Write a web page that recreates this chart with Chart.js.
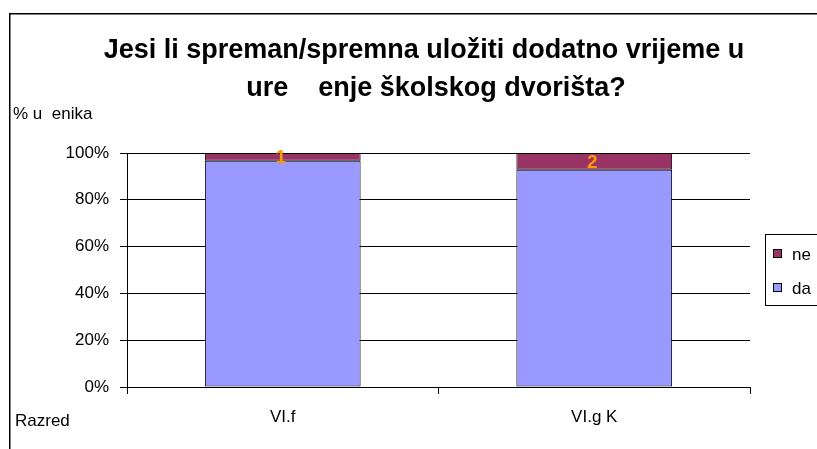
<!DOCTYPE html>
<html>
<head>
<meta charset="utf-8">
<script src="https://cdn.jsdelivr.net/npm/chart.js@4.4.0/dist/chart.umd.min.js"></script>
<style>
  html, body { margin: 0; padding: 0; background: #fff; }
</style>
</head>
<body>
<canvas id="grafikon" width="817" height="449"></canvas>
<script>
const razredi = ['VI.f', 'VI.g K'];
const odgovorDa = [29, 26];
const odgovorNe = [1, 2];
const yTicks = [0, 20, 40, 60, 80, 100];
const naslov = ['Jesi li spreman/spremna uložiti dodatno vrijeme u', 'ure    enje školskog dvorišta?'];

// postoci po razredu (100% stupci)
const ukupno = razredi.map((r, i) => odgovorDa[i] + odgovorNe[i]);
const postoDa = odgovorDa.map((v, i) => v / ukupno[i] * 100);
const postoNe = odgovorNe.map((v, i) => v / ukupno[i] * 100);

const FONT = "'Liberation Sans', Arial, sans-serif";

// okvir, naslov, oznake osi, legenda i brojke na stupcima
const crtanje = {
    id: 'crtanje',
    afterDraw(chart) {
        const c = chart.ctx;
        c.save();
        // okvir grafikona (lijevo i gore)
        c.strokeStyle = '#000';
        c.lineWidth = 1.5;
        c.beginPath();
        c.moveTo(9.75, 449);
        c.lineTo(9.75, 13.75);
        c.lineTo(817, 13.75);
        c.stroke();

        c.fillStyle = '#000';
        c.font = 'bold 27px ' + FONT;
        c.textAlign = 'center';
        c.textBaseline = 'alphabetic';
        c.fillText(naslov[0], 424, 58);
        c.fillText(naslov[1], 436, 96);

        c.font = '17px ' + FONT;
        c.textAlign = 'left';
        c.fillText('% u  enika', 13, 119);
        c.fillText('Razred', 15, 426);

        // legenda
        c.lineWidth = 1;
        c.strokeRect(765.5, 234.5, 60, 71);
        const stavke = [
            { tekst: 'ne', boja: '#993366', y: 249 },
            { tekst: 'da', boja: '#9999FF', y: 283 }
        ];
        stavke.forEach(s => {
            c.fillStyle = s.boja;
            c.fillRect(773, s.y, 9, 9);
            c.strokeRect(773.5, s.y + 0.5, 8, 8);
            c.fillStyle = '#000';
            c.fillText(s.tekst, 792, s.y + 11);
        });

        // broj odgovora "ne" na vrhu stupca
        const meta = chart.getDatasetMeta(1);
        c.font = 'bold 19px ' + FONT;
        c.fillStyle = '#FF9900';
        c.textAlign = 'center';
        c.textBaseline = 'middle';
        meta.data.forEach((el, i) => {
            c.fillText(String(odgovorNe[i]), el.x - 2, (el.y + el.base) / 2 + 1);
        });
        c.restore();
    }
};

new Chart(document.getElementById('grafikon'), {
    type: 'bar',
    data: {
        labels: razredi,
        datasets: [{
            label: 'da',
            data: postoDa,
            backgroundColor: '#9999FF',
            borderColor: '#000',
            borderWidth: 1,
            borderSkipped: false
        }, {
            label: 'ne',
            data: postoNe,
            backgroundColor: '#993366',
            borderColor: '#000',
            borderWidth: 1,
            borderSkipped: false
        }]
    },
    options: {
        responsive: false,
        animation: false,
        devicePixelRatio: 1,
        layout: { padding: { left: 0, right: 67, top: 153, bottom: 22 } },
        datasets: { bar: { categoryPercentage: 1, barPercentage: 0.5 } },
        plugins: { legend: { display: false }, tooltip: { enabled: false }, title: { display: false } },
        scales: {
            x: {
                stacked: true,
                grid: { drawOnChartArea: false, tickLength: 7, color: '#000' },
                border: { color: '#000' },
                ticks: { color: '#000', font: { family: FONT, size: 17 }, padding: 13 },
                afterFit(s) { s.height = 40; }
            },
            y: {
                stacked: true,
                min: 0,
                max: 100,
                afterBuildTicks(s) { s.ticks = yTicks.map(v => ({ value: v })); },
                grid: { color: '#000', tickLength: 7 },
                border: { color: '#000' },
                ticks: { color: '#000', font: { family: FONT, size: 17 }, padding: 11, callback: v => v + '%' },
                afterFit(s) { s.width = 127; }
            }
        }
    },
    plugins: [crtanje]
});
</script>
</body>
</html>
